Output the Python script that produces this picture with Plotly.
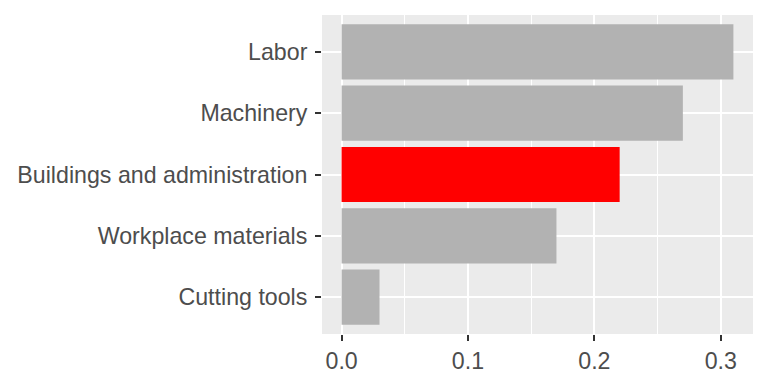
import plotly.graph_objects as go

categories = ["Labor", "Machinery", "Buildings and administration", "Workplace materials", "Cutting tools"]
values = [0.31, 0.27, 0.22, 0.17, 0.03]
highlight = "Buildings and administration"
x_ticks = [0.0, 0.1, 0.2, 0.3]
x_tick_labels = ["0.0", "0.1", "0.2", "0.3"]

colors = ["#FF0000" if c == highlight else "#B2B2B2" for c in categories]

fig = go.Figure(go.Bar(
    x=values, y=categories, orientation="h",
    marker=dict(color=colors, line=dict(width=0)),
    width=0.9,
))

font = dict(family="Liberation Sans, Arial, Helvetica, sans-serif", size=23.2, color="#4D4D4D")

# page body has an 8px margin, so size the figure to fit the window
fig.update_layout(
    width=760, height=376,
    margin=dict(l=314, r=15, t=7, b=50),
    paper_bgcolor="white", plot_bgcolor="#EBEBEB",
    showlegend=False,
    font=font,
)
fig.update_xaxes(
    range=[-0.0155, 0.3255],
    tickvals=x_ticks, ticktext=x_tick_labels,
    showgrid=True, gridcolor="white", gridwidth=2,
    zeroline=False, showline=False,
    ticks="outside", ticklen=6, tickwidth=2, tickcolor="#333333",
    tickfont=font, ticklabelstandoff=0,
    minor=dict(dtick=0.05, tick0=0, showgrid=True, gridcolor="white", gridwidth=1, ticks=""),
)
fig.update_yaxes(
    categoryorder="array", categoryarray=categories[::-1],
    range=[-0.6, 4.6],
    showgrid=True, gridcolor="white", gridwidth=2,
    zeroline=False, showline=False,
    ticks="outside", ticklen=6, tickwidth=2, tickcolor="#333333",
    tickfont=font, ticklabelstandoff=3,
)

fig.write_html("out.html")
